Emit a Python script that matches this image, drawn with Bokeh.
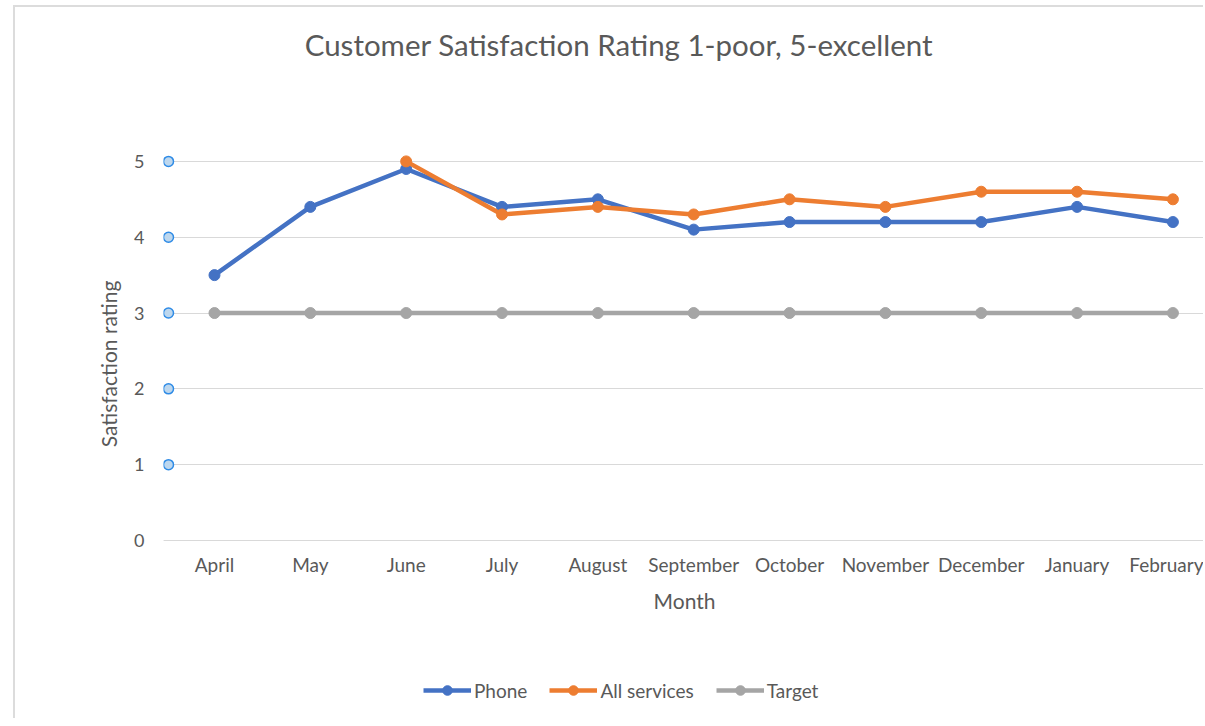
import numpy as np
from bokeh.plotting import figure
from bokeh.models import (Range1d, FixedTicker, Legend, LegendItem, ColumnDataSource, Label)
from bokeh.embed import file_html
from bokeh.resources import INLINE

months = ["April", "May", "June", "July", "August", "September", "October",
          "November", "December", "January", "February"]
phone = [3.5, 4.4, 4.9, 4.4, 4.5, 4.1, 4.2, 4.2, 4.2, 4.4, 4.2]
all_services = [np.nan, np.nan, 5.0, 4.3, 4.4, 4.3, 4.5, 4.4, 4.6, 4.6, 4.5]
target = [3, 3, 3, 3, 3, 3, 3, 3, 3, 3, 3]
y_ticks = [0, 1, 2, 3, 4, 5]
handle_levels = [1, 2, 3, 4, 5]

FONT = "Lato"
TXT = "#595959"
GRID = "#d9d9d9"
COLORS = {"Phone": "#4472C4", "All services": "#ED7D31", "Target": "#A5A5A5"}

x = list(range(len(months)))
x_start, x_end = -0.532, 10.34
y_start, y_end = -2.375, 7.03

p = figure(width=1190, height=713, output_backend="svg", toolbar_location=None,
           x_range=Range1d(x_start, x_end), y_range=Range1d(y_start, y_end),
           min_border_left=148, min_border_right=0, min_border_top=0,
           min_border_bottom=0)
p.styles = {"border-left": "2px solid #dcdcdc", "border-top": "2px solid #dcdcdc",
            "margin-left": "13px", "margin-top": "5px"}
p.outline_line_color = None
p.background_fill_color = "white"
p.border_fill_color = "white"

title = Label(x=4.22, y=6.54, text="Customer Satisfaction Rating 1-poor, 5-excellent",
              text_align="center", text_baseline="middle", text_font=FONT,
              text_font_size="29.5px", text_color=TXT)
p.add_layout(title)

# x axis drawn at y = 0
p.xaxis.fixed_location = 0
p.xaxis.ticker = FixedTicker(ticks=x)
p.xaxis.major_label_overrides = {i: m for i, m in enumerate(months)}
p.xaxis.major_tick_line_color = None
p.xaxis.minor_tick_line_color = None
p.xaxis.axis_line_color = GRID
p.xaxis.axis_line_width = 1
p.xaxis.major_label_text_font = FONT
p.xaxis.major_label_text_font_size = "19px"
p.xaxis.major_label_text_color = TXT
p.xaxis.major_label_standoff = 7
p.xaxis.axis_label = "Month"
p.xaxis.axis_label_text_font = FONT
p.xaxis.axis_label_text_font_size = "21px"
p.xaxis.axis_label_text_font_style = "normal"
p.xaxis.axis_label_text_color = TXT
p.xaxis.axis_label_standoff = 8

p.yaxis.ticker = FixedTicker(ticks=y_ticks)
p.yaxis.major_tick_line_color = None
p.yaxis.minor_tick_line_color = None
p.yaxis.axis_line_color = None
p.yaxis.major_label_text_font = FONT
p.yaxis.major_label_text_font_size = "18px"
p.yaxis.major_label_text_color = TXT
p.yaxis.major_label_standoff = 13
p.yaxis.axis_label = "Satisfaction rating"
p.yaxis.axis_label_text_font = FONT
p.yaxis.axis_label_text_font_size = "21px"
p.yaxis.axis_label_text_font_style = "normal"
p.yaxis.axis_label_text_color = TXT
p.yaxis.axis_label_standoff = 10

p.xgrid.grid_line_color = None
p.ygrid.grid_line_color = GRID
p.ygrid.grid_line_width = 1

items = []
for name, vals in [("Phone", phone), ("All services", all_services), ("Target", target)]:
    src = ColumnDataSource(dict(x=x, y=vals))
    c = COLORS[name]
    r1 = p.line("x", "y", source=src, line_color=c, line_width=4.5)
    r2 = p.scatter("x", "y", source=src, size=11, fill_color=c, line_color=c)
    items.append(LegendItem(label=name, renderers=[r1, r2]))

# Excel selection handles on the value axis
hx = x_start + (168 - 163) / 95.8
hsrc = ColumnDataSource(dict(x=[hx] * len(handle_levels), y=handle_levels))
p.scatter("x", "y", source=hsrc, size=10, fill_color="#BDD7EE", line_color="#2E8BE6",
          line_width=1.5)

legend = Legend(items=items, orientation="horizontal", location=(260, 18),
                glyph_width=48, glyph_height=24, label_standoff=3, spacing=22,
                label_text_font=FONT, label_text_font_size="19px",
                label_text_color=TXT, border_line_color=None,
                background_fill_alpha=0, margin=0, padding=0)
p.add_layout(legend, "center")

open("out.html", "w").write(file_html(p, INLINE))
